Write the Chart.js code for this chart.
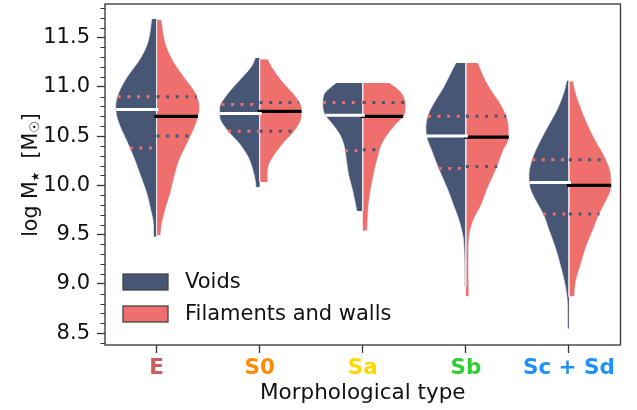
<!DOCTYPE html>
<html>
<head>
<meta charset="utf-8">
<script src="https://cdn.jsdelivr.net/npm/chart.js@4/dist/chart.umd.min.js"></script>
<style>
  html, body { margin: 0; padding: 0; background: #ffffff; }
  #wrap { width: 637px; height: 410px; }
</style>
</head>
<body>
<div id="wrap"><canvas id="chart"></canvas></div>
<script>
// Morphological classes along the x axis and their label colours
const categories = ['E', 'S0', 'Sa', 'Sb', 'Sc + Sd'];
const categoryColors = ['#CD5C5C', '#FF8C00', '#FFD700', '#32CD32', '#1E90FF'];
const groupNames = ['Voids', 'Filaments and walls'];
const yTicks = [8.5, 9.0, 9.5, 10.0, 10.5, 11.0, 11.5];

// Violin outlines: [log M*, half-width in category units], from top to bottom
const voidsE  = [[11.69,0.046],[11.443,0.087],[11.275,0.165],[11.106,0.281],[10.938,0.368],[10.802,0.397],[10.668,0.378],[10.432,0.281],[10.263,0.213],[10.095,0.155],[9.927,0.097],[9.758,0.058],[9.589,0.029],[9.478,0.029]];
const voidsS0 = [[11.292,0.042],[11.207,0.080],[11.039,0.220],[10.903,0.329],[10.786,0.388],[10.701,0.388],[10.567,0.320],[10.432,0.203],[10.297,0.116],[10.162,0.068],[10.044,0.042],[9.98,0.036]];
const voidsSa = [[11.039,0.259],[10.988,0.320],[10.92,0.378],[10.82,0.388],[10.718,0.368],[10.617,0.291],[10.516,0.223],[10.415,0.184],[10.28,0.162],[10.112,0.139],[9.943,0.097],[9.74,0.058]];
const voidsSb = [[11.241,0.097],[11.123,0.155],[10.988,0.220],[10.853,0.300],[10.718,0.365],[10.584,0.388],[10.483,0.378],[10.347,0.329],[10.179,0.268],[9.977,0.184],[9.808,0.123],[9.64,0.065],[9.472,0.026],[9.303,0.016],[9.134,0.013],[8.972,0.013]];
const voidsSc = [[11.065,0.022],[10.954,0.046],[10.786,0.107],[10.617,0.194],[10.448,0.281],[10.28,0.352],[10.112,0.388],[9.977,0.378],[9.842,0.320],[9.707,0.249],[9.538,0.191],[9.371,0.133],[9.202,0.087],[9.033,0.046],[8.865,0.019],[8.696,0.013],[8.544,0.013]];

const filE  = [[11.68,0.048],[11.443,0.087],[11.275,0.155],[11.106,0.262],[10.938,0.378],[10.802,0.417],[10.668,0.397],[10.432,0.300],[10.263,0.223],[10.095,0.174],[9.927,0.136],[9.758,0.087],[9.589,0.048],[9.49,0.039]];
const filS0 = [[11.28,0.080],[11.207,0.116],[11.039,0.233],[10.903,0.349],[10.786,0.407],[10.701,0.407],[10.567,0.349],[10.432,0.233],[10.297,0.136],[10.196,0.087],[10.094,0.078],[10.034,0.078]];
const filSa = [[11.039,0.259],[10.988,0.329],[10.92,0.388],[10.82,0.417],[10.718,0.407],[10.617,0.320],[10.516,0.242],[10.415,0.184],[10.28,0.145],[10.112,0.107],[9.943,0.075],[9.775,0.055],[9.64,0.048],[9.538,0.042]];
const filSb = [[11.241,0.119],[11.123,0.165],[10.988,0.233],[10.853,0.320],[10.718,0.388],[10.584,0.417],[10.483,0.417],[10.347,0.359],[10.179,0.300],[9.977,0.213],[9.808,0.152],[9.64,0.071],[9.472,0.032],[9.303,0.026],[9.134,0.026],[8.966,0.029],[8.875,0.029]];
const filSc = [[11.055,0.042],[10.954,0.061],[10.786,0.116],[10.617,0.181],[10.448,0.262],[10.28,0.352],[10.112,0.407],[9.977,0.410],[9.842,0.359],[9.707,0.294],[9.538,0.230],[9.371,0.165],[9.202,0.116],[9.033,0.068],[8.95,0.058],[8.871,0.051]];

// Quartiles and medians of log M* per class
const voidsQ1     = [10.38, 10.55, 10.35, 10.17, 9.71];
const voidsMedian = [10.77, 10.73, 10.71, 10.50, 10.03];
const voidsQ3     = [10.90, 10.82, 10.84, 10.70, 10.26];
const filQ1       = [10.50, 10.55, 10.36, 10.19, 9.71];
const filMedian   = [10.70, 10.75, 10.70, 10.49, 10.00];
const filQ3       = [10.90, 10.84, 10.84, 10.70, 10.26];

const voidsProfiles = [voidsE, voidsS0, voidsSa, voidsSb, voidsSc];
const filProfiles = [filE, filS0, filSa, filSb, filSc];

const NAVY = '#475674';
const PINK = '#EE6F6C';
const EDGE = 'rgba(235,235,240,0.85)';
const FONT = "'DejaVu Sans', 'Liberation Sans', sans-serif";

// half-width of an outline at a given log M*, linear between the listed levels
function widthAt(profile, v) {
  for (let k = 0; k < profile.length - 1; k++) {
    const [v1, w1] = profile[k], [v2, w2] = profile[k + 1];
    if (v <= v1 && v >= v2) return w1 + (w2 - w1) * (v1 - v) / (v1 - v2);
  }
  return profile[profile.length - 1][1];
}

const datasets = [];
categories.forEach((cat, i) => {
  const vp = voidsProfiles[i], fp = filProfiles[i];
  // medians (drawn on top)
  datasets.push({
    data: [{x: i - widthAt(vp, voidsMedian[i]), y: voidsMedian[i]}, {x: i + 0.02, y: voidsMedian[i]}],
    borderColor: '#ffffff', borderWidth: 3, borderCapStyle: 'butt', fill: false, pointRadius: 0, order: 1
  });
  datasets.push({
    data: [{x: i - 0.02, y: filMedian[i]}, {x: i + widthAt(fp, filMedian[i]), y: filMedian[i]}],
    borderColor: '#000000', borderWidth: 3.2, borderCapStyle: 'butt', fill: false, pointRadius: 0, order: 1
  });
  // quartiles, dotted
  [voidsQ1[i], voidsQ3[i]].forEach(q => datasets.push({
    data: [{x: i - widthAt(vp, q), y: q}, {x: i, y: q}],
    borderColor: PINK, borderWidth: 3, borderDash: [3, 6.6], borderCapStyle: 'butt', fill: false, pointRadius: 0, order: 2
  }));
  [filQ1[i], filQ3[i]].forEach(q => datasets.push({
    data: [{x: i, y: q}, {x: i + widthAt(fp, q), y: q}],
    borderColor: NAVY, borderWidth: 3, borderDash: [3, 6.6], borderCapStyle: 'butt', fill: false, pointRadius: 0, order: 2
  }));
  // thin split line where both halves overlap
  const top = Math.min(vp[0][0], fp[0][0]);
  const bottom = Math.max(vp[vp.length - 1][0], fp[fp.length - 1][0]);
  datasets.push({
    data: [{x: i, y: top}, {x: i, y: bottom}],
    borderColor: EDGE, borderWidth: 1, fill: false, pointRadius: 0, order: 3
  });
  // violin halves, filled towards the category centre
  datasets.push({
    label: groupNames[0],
    data: vp.map(([v, w]) => ({x: i - w, y: v})),
    backgroundColor: NAVY, borderColor: EDGE, borderWidth: 0.8,
    fill: {value: i}, cubicInterpolationMode: 'monotone', pointRadius: 0, order: 4
  });
  datasets.push({
    label: groupNames[1],
    data: fp.map(([v, w]) => ({x: i + w, y: v})),
    backgroundColor: PINK, borderColor: EDGE, borderWidth: 0.8,
    fill: {value: i}, cubicInterpolationMode: 'monotone', pointRadius: 0, order: 4
  });
});

// frame, minor ticks, y title with subscripts, legend
const decorations = {
  id: 'decorations',
  afterDatasetsDraw(chart) {
    const ctx = chart.ctx;
    const legendColors = [NAVY, PINK];
    ctx.save();
    groupNames.forEach((name, k) => {
      const y = 274 + k * 32;
      ctx.fillStyle = legendColors[k];
      ctx.fillRect(123, y, 45, 16);
      ctx.strokeStyle = '#444444';
      ctx.lineWidth = 1.3;
      ctx.strokeRect(123, y, 45, 16);
      ctx.fillStyle = '#111111';
      ctx.font = '21px ' + FONT;
      ctx.textBaseline = 'middle';
      ctx.textAlign = 'left';
      ctx.fillText(name, 185, y + 9);
    });
    ctx.restore();
  },
  afterDraw(chart) {
    const ctx = chart.ctx;
    const a = chart.chartArea;
    const ys = chart.scales.y;
    ctx.save();
    // minor ticks every 0.1
    ctx.strokeStyle = '#333333';
    ctx.lineWidth = 1;
    for (let t = 84; t <= 118; t++) {
      if (t % 5 === 0) continue;
      const v = t / 10;
      if (v < ys.min || v > ys.max) continue;
      const py = Math.round(ys.getPixelForValue(v)) + 0.5;
      ctx.beginPath();
      ctx.moveTo(a.left - 4.5, py);
      ctx.lineTo(a.left, py);
      ctx.stroke();
    }
    // box around the plot
    ctx.lineWidth = 1.3;
    ctx.strokeRect(a.left, a.top, a.right - a.left, a.bottom - a.top);
    // y title: log M_star [M_sun]
    const parts = [['log', 20.5, 0], [' M', 20.5, 0], ['\u2605', 11, 2], ['  [M', 20.5, 0], ['\u2609', 13, 2], [']', 20.5, 0]];
    let total = 0;
    parts.forEach(p => { ctx.font = p[1] + 'px ' + FONT; p.push(ctx.measureText(p[0]).width); total += p[3]; });
    ctx.translate(36.5, 175);
    ctx.rotate(-Math.PI / 2);
    ctx.fillStyle = '#111111';
    ctx.textBaseline = 'alphabetic';
    ctx.textAlign = 'left';
    let x = -total / 2;
    parts.forEach(p => {
      ctx.font = p[1] + 'px ' + FONT;
      ctx.fillText(p[0], x, p[2]);
      x += p[3];
    });
    ctx.restore();
  }
};

new Chart(document.getElementById('chart'), {
  type: 'line',
  data: { datasets },
  options: {
    indexAxis: 'y',
    responsive: true,
    maintainAspectRatio: false,
    animation: false,
    events: [],
    layout: { padding: { left: 0, right: 16.5, top: 4, bottom: 0 } },
    plugins: { legend: { display: false }, tooltip: { enabled: false } },
    scales: {
      x: {
        type: 'linear',
        min: -0.5,
        max: 4.5,
        afterFit(s) { s.height = 65; s.paddingLeft = 0; s.paddingRight = 0; },
        afterBuildTicks(s) { s.ticks = categories.map((c, i) => ({ value: i })); },
        grid: { drawOnChartArea: false, drawTicks: true, tickLength: 8, tickColor: '#333333', tickWidth: 1.3 },
        border: { display: false },
        ticks: {
          padding: 3,
          maxRotation: 0,
          autoSkip: false,
          callback: v => categories[v],
          color: ctx => categoryColors[ctx.index],
          font: { family: FONT, size: 21.5, weight: 'bold' }
        },
        title: {
          display: true,
          text: 'Morphological type',
          color: '#111111',
          font: { family: FONT, size: 21.5 },
          padding: { top: 0, bottom: 3.4 }
        }
      },
      y: {
        type: 'linear',
        min: 8.38,
        max: 11.84,
        afterFit(s) { s.width = 105; s.paddingTop = 0; s.paddingBottom = 0; },
        afterBuildTicks(s) { s.ticks = yTicks.map(v => ({ value: v })); },
        grid: { drawOnChartArea: false, drawTicks: true, tickLength: 8, tickColor: '#333333', tickWidth: 1.3 },
        border: { display: false },
        ticks: {
          padding: 7,
          color: '#111111',
          callback: v => v.toFixed(1),
          font: { family: FONT, size: 21 }
        }
      }
    }
  },
  plugins: [decorations]
});
</script>
</body>
</html>
